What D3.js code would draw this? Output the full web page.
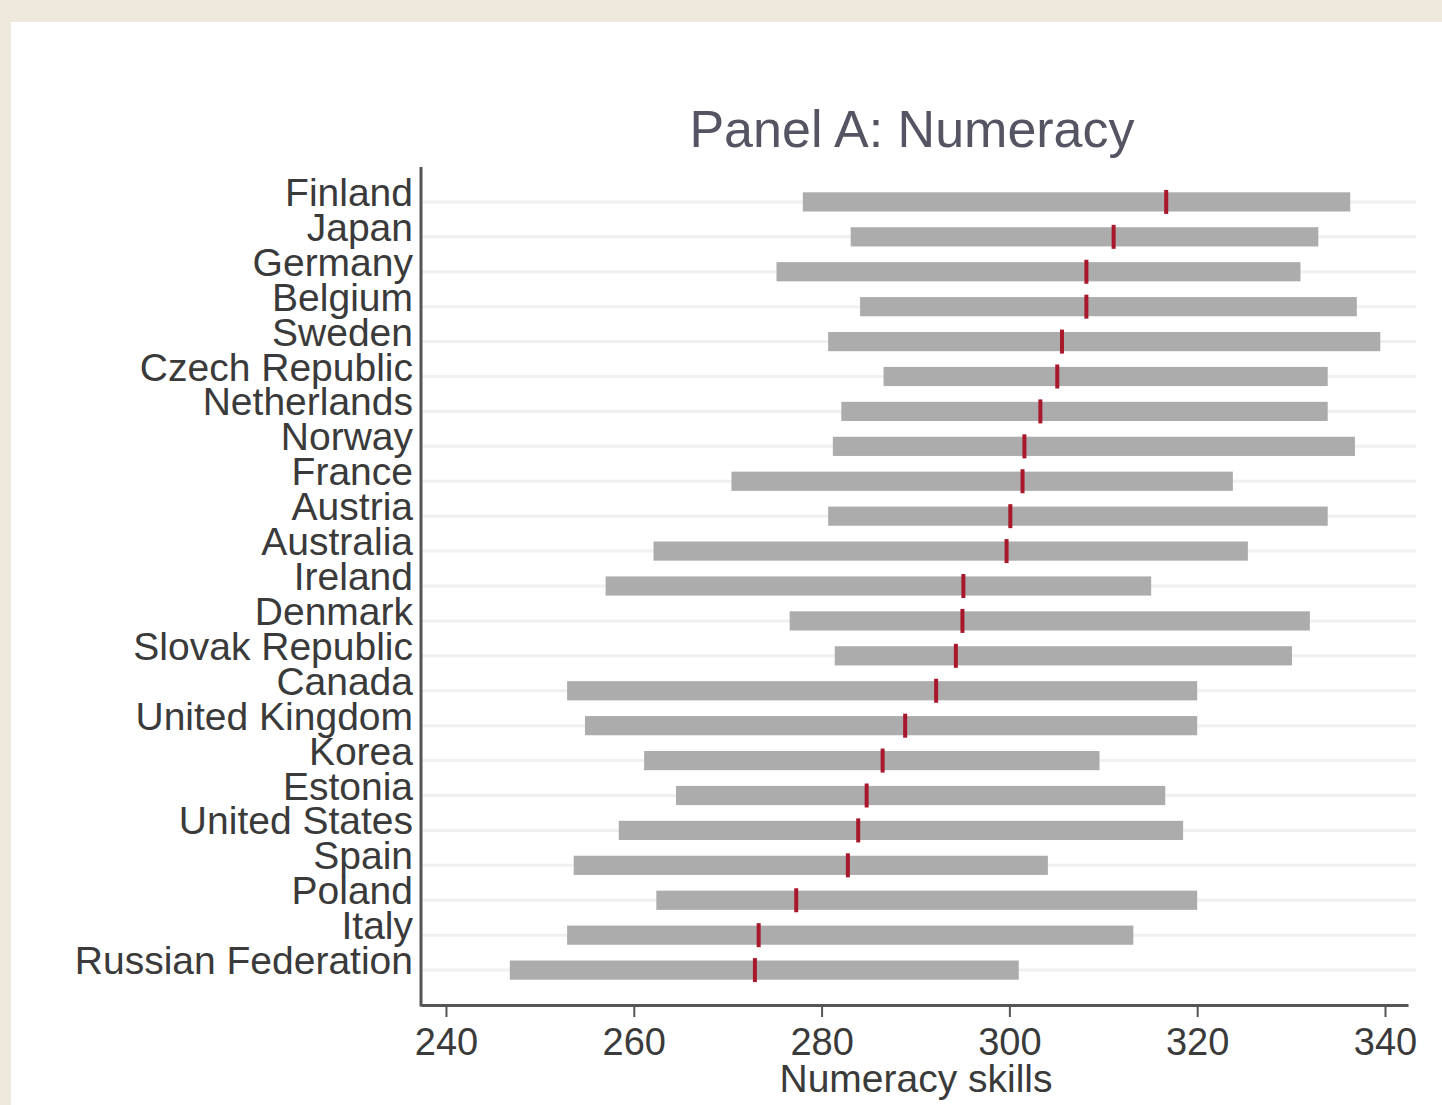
<!DOCTYPE html>
<html>
<head>
<meta charset="utf-8">
<script src="https://cdn.jsdelivr.net/npm/d3@7"></script>
<style>
  html, body { margin: 0; padding: 0; background: #efe9dd; }
  svg { display: block; }
</style>
</head>
<body>
<svg id="chart" width="1442" height="1105"></svg>
<script>
// country order, top to bottom
const countries = ['Finland', 'Japan', 'Germany', 'Belgium', 'Sweden', 'Czech Republic',
  'Netherlands', 'Norway', 'France', 'Austria', 'Australia', 'Ireland', 'Denmark',
  'Slovak Republic', 'Canada', 'United Kingdom', 'Korea', 'Estonia', 'United States',
  'Spain', 'Poland', 'Italy', 'Russian Federation'];

// lower end of range bar
const lows = [278.0, 283.1, 275.2, 284.1, 280.7, 286.6, 282.1, 281.2, 270.4, 280.7, 262.1, 257.0,
  276.6, 281.4, 252.9, 254.8, 261.1, 264.5, 258.4, 253.6, 262.4, 252.9, 246.8];
// upper end of range bar
const highs = [336.3, 332.9, 331.0, 337.0, 339.5, 333.9, 333.9, 336.8, 323.8, 333.9, 325.4, 315.1,
  332.0, 330.1, 320.0, 320.0, 309.6, 316.6, 318.5, 304.1, 320.0, 313.2, 301.0];
// mean score (red tick)
const means = [316.7, 311.1, 308.2, 308.2, 305.6, 305.1, 303.3, 301.6, 301.4, 300.1, 299.7, 295.1,
  295.0, 294.3, 292.2, 288.9, 286.5, 284.8, 283.9, 282.8, 277.3, 273.3, 272.9];

const xTicks = [240, 260, 280, 300, 320, 340];

const svg = d3.select('#chart');
const FONT = 'Liberation Sans, Arial, sans-serif';

// white plot region inside the beige frame
svg.append('rect')
    .attr('x', 11).attr('y', 22)
    .attr('width', 1442 - 11).attr('height', 1105 - 22)
    .attr('fill', '#ffffff');

const plotL = 421, plotR = 1408, plotT = 167, plotB = 1005;

const x = d3.scaleLinear()
    .domain([237.34, 342.45])
    .range([plotL, plotR]);

const y = d3.scalePoint()
    .domain(countries)
    .range([plotT, plotB])
    .padding(1);

const barH = y.step() * 0.55;

const data = countries.map((c, i) => ({ c, lo: lows[i], hi: highs[i], m: means[i] }));

const g = svg.append('g');

// faint row lines
g.selectAll('line.grid')
  .data(data)
  .enter().append('line')
    .attr('class', 'grid')
    .attr('x1', plotL).attr('x2', 1416)
    .attr('y1', d => y(d.c)).attr('y2', d => y(d.c))
    .attr('stroke', '#f0f0f0').attr('stroke-width', 3);

// range bars
g.selectAll('rect.bar')
  .data(data)
  .enter().append('rect')
    .attr('class', 'bar')
    .attr('x', d => x(d.lo))
    .attr('y', d => y(d.c) - barH / 2)
    .attr('width', d => x(d.hi) - x(d.lo))
    .attr('height', barH)
    .attr('fill', '#acacac');

// mean markers
g.selectAll('rect.mean')
  .data(data)
  .enter().append('rect')
    .attr('class', 'mean')
    .attr('x', d => x(d.m) - 2)
    .attr('y', d => y(d.c) - 12)
    .attr('width', 4)
    .attr('height', 24)
    .attr('fill', '#a8172b');

// country labels
g.selectAll('text.label')
  .data(data)
  .enter().append('text')
    .attr('class', 'label')
    .attr('x', plotL - 8)
    .attr('y', d => y(d.c) + 4)
    .attr('text-anchor', 'end')
    .attr('font-family', FONT).attr('font-size', 39)
    .attr('fill', '#3a3a3a')
    .text(d => d.c);

// x axis
const xAxis = svg.append('g')
    .attr('transform', `translate(0,${plotB})`)
    .call(d3.axisBottom(x).tickValues(xTicks).tickSize(12).tickSizeOuter(0).tickPadding(11));
xAxis.select('.domain').attr('stroke', '#555').attr('stroke-width', 3);
xAxis.selectAll('.tick line').attr('stroke', '#555').attr('stroke-width', 2);
xAxis.selectAll('.tick text')
    .attr('font-family', FONT).attr('font-size', 38)
    .attr('fill', '#3a3a3a');

// y axis line
svg.append('line')
    .attr('x1', plotL).attr('x2', plotL)
    .attr('y1', plotT).attr('y2', plotB + 1.5)
    .attr('stroke', '#555').attr('stroke-width', 3);

// axis title
svg.append('text')
    .attr('x', 916).attr('y', 1092)
    .attr('text-anchor', 'middle')
    .attr('font-family', FONT).attr('font-size', 39)
    .attr('fill', '#3a3a3a')
    .text('Numeracy skills');

// panel title
svg.append('text')
    .attr('x', 912).attr('y', 147)
    .attr('text-anchor', 'middle')
    .attr('font-family', FONT).attr('font-size', 52)
    .attr('fill', '#545463')
    .text('Panel A: Numeracy');
</script>
</body>
</html>
